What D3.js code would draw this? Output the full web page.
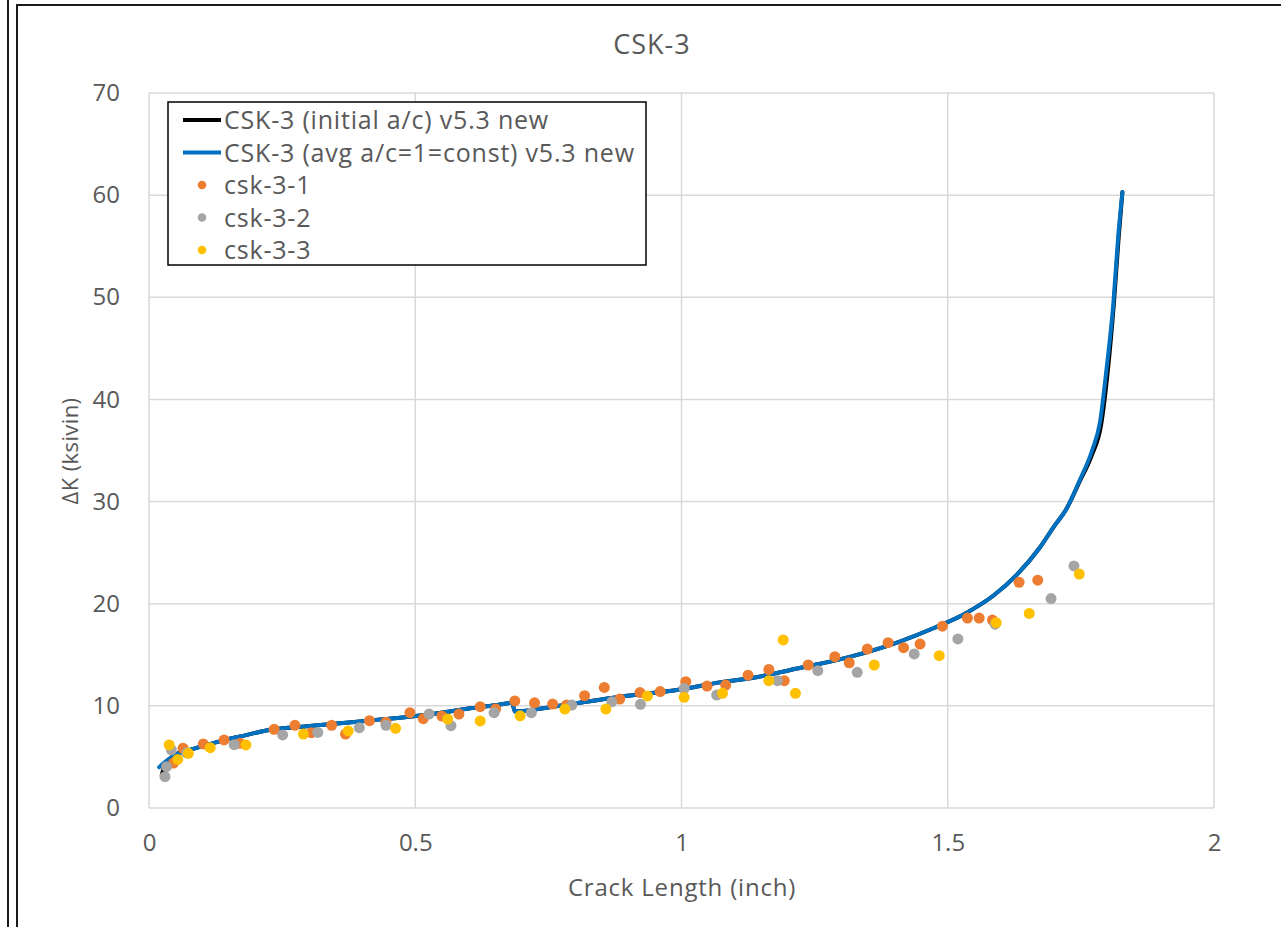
<!DOCTYPE html>
<html>
<head>
<meta charset="utf-8">
<script src="https://cdn.jsdelivr.net/npm/d3@7"></script>
<style>
  html, body { margin: 0; padding: 0; background: #fff; }
  svg { display: block; }
  text { font-family: "Open Sans", Lato, sans-serif; fill: #595959; }
</style>
</head>
<body>
<svg id="chart" width="1281" height="927"></svg>
<script>
// ---------- data ----------
const chartTitle = "CSK-3";
const xTicks = [0, 0.5, 1, 1.5, 2];
const yTicks = [0, 10, 20, 30, 40, 50, 60, 70];
const xLabel = "Crack Length (inch)";
const yLabel = "ΔK (ksivin)";
const seriesNames = ["CSK-3 (initial a/c) v5.3 new", "CSK-3 (avg a/c=1=const) v5.3 new", "csk-3-1", "csk-3-2", "csk-3-3"];

const initialAC = [
  [0.024,3.2],[0.030,4.3],[0.046,5.1],[0.077,5.7],[0.108,6.15],[0.141,6.65],[0.171,7.0],[0.233,7.7],
  [0.296,8.0],[0.359,8.3],[0.421,8.6],[0.484,8.9],[0.546,9.3],[0.603,9.76],[0.650,10.05],[0.682,10.3],
  [0.687,9.45],[0.759,9.92],[0.884,10.9],[0.997,11.6],[1.072,12.3],[1.129,12.7],[1.222,13.7],[1.316,14.8],
  [1.410,16.3],[1.473,17.6],[1.535,19.1],[1.586,20.8],[1.629,22.8],[1.673,25.5],[1.700,27.6],[1.722,29.2],
  [1.748,32.0],[1.771,34.6],[1.788,37.5],[1.800,42.5],[1.812,49.4],[1.821,55.9],[1.828,60.3]
];
const avgAC = [
  [0.019,4.0],[0.030,4.5],[0.046,5.1],[0.077,5.7],[0.108,6.15],[0.141,6.65],[0.171,7.0],[0.233,7.7],
  [0.296,8.0],[0.359,8.3],[0.421,8.6],[0.484,8.9],[0.546,9.3],[0.603,9.76],[0.650,10.05],[0.682,10.3],
  [0.687,9.45],[0.759,9.92],[0.884,10.9],[0.997,11.6],[1.072,12.3],[1.129,12.7],[1.222,13.7],[1.316,14.8],
  [1.410,16.3],[1.473,17.6],[1.535,19.1],[1.586,20.8],[1.629,22.8],[1.673,25.5],[1.700,27.6],[1.722,29.2],
  [1.748,32.1],[1.771,35.0],[1.786,37.8],[1.798,42.9],[1.811,49.4],[1.820,55.9],[1.828,60.3]
];
const csk31 = [
  [0.046,4.4],[0.064,5.85],[0.102,6.27],[0.141,6.66],[0.171,6.33],[0.235,7.7],[0.274,8.1],[0.305,7.37],
  [0.343,8.1],[0.369,7.24],[0.414,8.55],[0.445,8.4],[0.490,9.33],[0.515,8.75],[0.550,9.0],[0.582,9.2],
  [0.622,9.92],[0.651,9.7],[0.687,10.48],[0.724,10.3],[0.758,10.18],[0.784,10.08],[0.818,11.0],[0.855,11.8],
  [0.884,10.67],[0.922,11.3],[0.960,11.4],[1.008,12.37],[1.048,11.94],[1.083,12.04],[1.125,13.0],[1.164,13.56],
  [1.193,12.46],[1.238,14.0],[1.288,14.81],[1.315,14.22],[1.349,15.56],[1.388,16.18],[1.417,15.7],[1.448,16.05],
  [1.490,17.8],[1.537,18.6],[1.559,18.6],[1.584,18.4],[1.634,22.1],[1.669,22.3]
];
const csk32 = [
  [0.030,3.07],[0.033,4.05],[0.042,5.7],[0.071,5.4],[0.160,6.2],[0.251,7.15],[0.317,7.4],[0.395,7.86],
  [0.445,8.1],[0.526,9.2],[0.567,8.06],[0.648,9.33],[0.718,9.33],[0.794,10.08],[0.869,10.4],[0.923,10.15],
  [1.005,11.7],[1.066,11.06],[1.180,12.46],[1.256,13.44],[1.330,13.28],[1.437,15.08],[1.519,16.55],[1.589,18.0],
  [1.694,20.5],[1.737,23.7]
];
const csk33 = [
  [0.038,6.17],[0.054,4.75],[0.074,5.35],[0.115,5.9],[0.182,6.17],[0.290,7.24],[0.374,7.54],[0.463,7.8],
  [0.561,8.71],[0.622,8.52],[0.697,9.03],[0.781,9.69],[0.858,9.69],[0.936,10.97],[1.005,10.84],[1.077,11.23],
  [1.164,12.46],[1.191,16.45],[1.214,11.23],[1.362,14.0],[1.484,14.91],[1.591,18.14],[1.653,19.05],[1.747,22.9]
];

// ---------- drawing ----------
const svg = d3.select("#chart");
const plot = { left: 149, right: 1214, top: 93, bottom: 808 };
const x = d3.scaleLinear().domain([0, 2]).range([plot.left, plot.right]);
const y = d3.scaleLinear().domain([0, 70]).range([plot.bottom, plot.top]);

// outer frames
svg.append("line").attr("x1", 8).attr("x2", 8).attr("y1", 0).attr("y2", 927)
  .attr("stroke", "#1a1a1a").attr("stroke-width", 2);
svg.append("rect").attr("x", 17).attr("y", 5).attr("width", 1300).attr("height", 1000)
  .attr("fill", "#fff").attr("stroke", "#1a1a1a").attr("stroke-width", 2);

// gridlines
const grid = svg.append("g");
grid.selectAll("line.h").data(yTicks).join("line")
  .attr("x1", plot.left).attr("x2", plot.right)
  .attr("y1", d => y(d)).attr("y2", d => y(d))
  .attr("stroke", "#d9d9d9").attr("stroke-width", 1.5);
grid.selectAll("line.v").data(xTicks).join("line")
  .attr("x1", d => x(d)).attr("x2", d => x(d))
  .attr("y1", plot.top).attr("y2", plot.bottom)
  .attr("stroke", "#d9d9d9").attr("stroke-width", 1.5);

// axes (labels only, Excel style)
const yAxis = d3.axisLeft(y).tickValues(yTicks).tickSize(0).tickPadding(29).tickFormat(d3.format("d"));
const gy = svg.append("g").attr("transform", `translate(${plot.left},0)`).call(yAxis);
gy.select(".domain").remove();
gy.selectAll("text").style("font-size", "24px").style("fill", "#595959").style("font-family", "'Open Sans', sans-serif");

const xAxis = d3.axisBottom(x).tickValues(xTicks).tickSize(0).tickPadding(26).tickFormat(d => d3.format("")(d));
const gx = svg.append("g").attr("transform", `translate(0,${plot.bottom})`).call(xAxis);
gx.select(".domain").remove();
gx.selectAll("text").style("font-size", "24px").style("fill", "#595959").style("font-family", "'Open Sans', sans-serif");

// lines
const line = d3.line().x(d => x(d[0])).y(d => y(d[1])).curve(d3.curveMonotoneX);
svg.append("path").datum(initialAC).attr("d", line).attr("fill", "none")
  .attr("stroke", "#000").attr("stroke-width", 4).attr("stroke-linejoin", "round").attr("stroke-linecap", "round");
svg.append("path").datum(avgAC).attr("d", line).attr("fill", "none")
  .attr("stroke", "#0070C0").attr("stroke-width", 4).attr("stroke-linejoin", "round").attr("stroke-linecap", "round");

// scatter
const scatterSets = [[csk31, "#ED7D31"], [csk32, "#A5A5A5"], [csk33, "#FFC000"]];
scatterSets.forEach(([data, color]) => {
  svg.append("g").selectAll("circle").data(data).join("circle")
    .attr("cx", d => x(d[0])).attr("cy", d => y(d[1])).attr("r", 5.5).attr("fill", color);
});

// titles
svg.append("text").attr("x", 652).attr("y", 54).attr("text-anchor", "middle")
  .style("font-size", "27px").style("letter-spacing", "1px").text(chartTitle);
svg.append("text").attr("x", 682).attr("y", 896).attr("text-anchor", "middle")
  .style("font-size", "24px").style("letter-spacing", "0.8px").text(xLabel);
svg.append("text").attr("transform", "translate(78,451) rotate(-90)").attr("text-anchor", "middle")
  .style("font-size", "22px").style("letter-spacing", "0.4px").text(yLabel);

// legend
const lg = svg.append("g");
lg.append("rect").attr("x", 168).attr("y", 102).attr("width", 478).attr("height", 163)
  .attr("fill", "#fff").attr("stroke", "#000").attr("stroke-width", 1.5);
const rowY = d3.scalePoint().domain(seriesNames).range([120, 250]);
const legendStyle = [
  { type: "line", color: "#000" },
  { type: "line", color: "#0070C0" },
  { type: "dot", color: "#ED7D31" },
  { type: "dot", color: "#A5A5A5" },
  { type: "dot", color: "#FFC000" }
];
seriesNames.forEach((name, i) => {
  const yy = rowY(name);
  const st = legendStyle[i];
  if (st.type === "line") {
    lg.append("line").attr("x1", 183).attr("x2", 221).attr("y1", yy).attr("y2", yy)
      .attr("stroke", st.color).attr("stroke-width", 4);
  } else {
    lg.append("circle").attr("cx", 202).attr("cy", yy).attr("r", 4.3).attr("fill", st.color);
  }
  lg.append("text").attr("x", 224).attr("y", yy + 9).style("font-size", "25px")
    .style("letter-spacing", "0.8px").text(name);
});
</script>
</body>
</html>
